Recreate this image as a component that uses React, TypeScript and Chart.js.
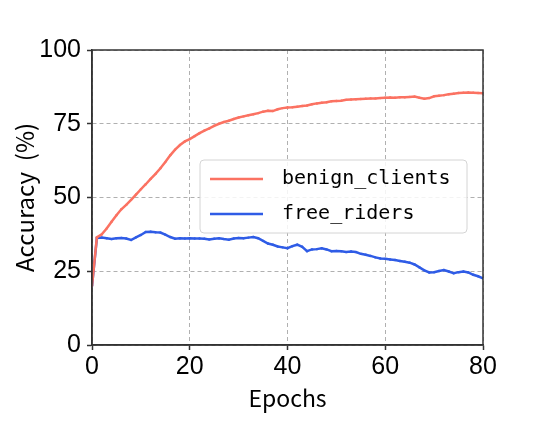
import React, { useEffect, useRef } from "react";
import { Chart, registerables } from "chart.js";

Chart.register(...registerables);

const EPOCHS: number[] = Array.from({ length: 81 }, (_, i) => i);

const BENIGN_CLIENTS: number[] = [
  20, 36.5, 37.5, 39.5, 41.8, 44, 46, 47.5, 49.2, 51,
  52.8, 54.5, 56.3, 58, 59.9, 62, 64.3, 66.2, 67.8, 69,
  69.8, 70.8, 71.8, 72.7, 73.4, 74.3, 75, 75.6, 76, 76.6,
  77.1, 77.5, 77.9, 78.2, 78.6, 79.1, 79.4, 79.3, 79.9, 80.3,
  80.5, 80.6, 80.8, 81, 81.2, 81.6, 81.9, 82.1, 82.3, 82.6,
  82.7, 82.8, 83.1, 83.2, 83.3, 83.4, 83.5, 83.6, 83.6, 83.7,
  83.8, 83.9, 83.8, 84, 84, 84.1, 84.2, 83.8, 83.5, 83.7,
  84.3, 84.5, 84.7, 85, 85.2, 85.4, 85.5, 85.6, 85.5, 85.4,
  85.3,
];

const FREE_RIDERS: number[] = [
  20, 36.3, 36.4, 36.2, 35.9, 36.2, 36.3, 36.1, 35.6, 36.5,
  37.3, 38.3, 38.4, 38.2, 38.1, 37.4, 36.6, 36, 36.2, 36.1,
  36.2, 36.1, 36.1, 36, 35.8, 36, 36.2, 35.9, 35.7, 36.1,
  36.3, 36.2, 36.4, 36.6, 36.2, 35.3, 34.4, 34, 33.4, 33.1,
  32.8, 33.5, 34, 33.3, 31.8, 32.4, 32.5, 32.8, 32.4, 31.8,
  31.9, 31.8, 31.5, 31.7, 31.5, 30.9, 30.6, 30.2, 29.7, 29.3,
  29.2, 29, 28.8, 28.5, 28.2, 27.9, 27.3, 26.3, 25.3, 24.6,
  24.7, 25.1, 25.4, 24.9, 24.3, 24.7, 24.9, 24.6, 23.8, 23.3,
  22.6,
];

const SERIES_LABELS: string[] = ["benign_clients", "free_riders"];
const X_TICKS: number[] = [0, 20, 40, 60, 80];
const Y_TICKS: number[] = [0, 25, 50, 75, 100];
const X_TITLE = "Epochs";
const Y_TITLE = "Accuracy  (%)";

const COLORS = ["#FB7262", "#2F5CE6"];
const FRAME = "#333333";

const framePlugin = {
  id: "frameAndLegend",
  afterDatasetsDraw(chart: any) {
    const { ctx, chartArea } = chart;
    ctx.save();
    ctx.strokeStyle = FRAME;
    ctx.lineWidth = 1.5;
    ctx.setLineDash([]);
    ctx.strokeRect(
      chartArea.left,
      chartArea.top,
      chartArea.right - chartArea.left,
      chartArea.bottom - chartArea.top
    );

    // legend box
    const bx = 200, by = 160, bw = 267, bh = 73, r = 4;
    ctx.beginPath();
    ctx.moveTo(bx + r, by);
    ctx.lineTo(bx + bw - r, by);
    ctx.quadraticCurveTo(bx + bw, by, bx + bw, by + r);
    ctx.lineTo(bx + bw, by + bh - r);
    ctx.quadraticCurveTo(bx + bw, by + bh, bx + bw - r, by + bh);
    ctx.lineTo(bx + r, by + bh);
    ctx.quadraticCurveTo(bx, by + bh, bx, by + bh - r);
    ctx.lineTo(bx, by + r);
    ctx.quadraticCurveTo(bx, by, bx + r, by);
    ctx.closePath();
    ctx.fillStyle = "rgba(255,255,255,0.85)";
    ctx.fill();
    ctx.strokeStyle = "#d4d4d4";
    ctx.lineWidth = 1;
    ctx.stroke();

    const rows = [179, 214];
    chart.data.datasets.forEach((ds: any, i: number) => {
      const y = rows[i];
      ctx.strokeStyle = ds.borderColor;
      ctx.lineWidth = 2.5;
      ctx.beginPath();
      ctx.moveTo(210, y);
      ctx.lineTo(263, y);
      ctx.stroke();
      ctx.fillStyle = "#000";
      ctx.font = "20px 'DejaVu Sans Mono', monospace";
      ctx.textBaseline = "middle";
      ctx.textAlign = "left";
      ctx.fillText(ds.label, 282, y);
    });
    ctx.restore();
  },
};

export default function App() {
  const ref = useRef<HTMLCanvasElement | null>(null);

  useEffect(() => {
    document.body.style.margin = "0";
    const canvas = ref.current;
    if (!canvas) return;
    const gridOpts: any = {
      color: "#b0b0b0",
      lineWidth: 1,
      tickLength: 5,
      tickColor: FRAME,
      tickWidth: 1.5,
      tickBorderDash: [],
    };
    const chart = new Chart(canvas, {
      type: "line",
      data: {
        datasets: [
          {
            label: SERIES_LABELS[0],
            data: EPOCHS.map((e, i) => ({ x: e, y: BENIGN_CLIENTS[i] })),
            borderColor: COLORS[0],
            backgroundColor: COLORS[0],
            borderWidth: 2.5,
            pointRadius: 1.2,
            pointBorderWidth: 0,
            tension: 0,
          },
          {
            label: SERIES_LABELS[1],
            data: EPOCHS.map((e, i) => ({ x: e, y: FREE_RIDERS[i] })),
            borderColor: COLORS[1],
            backgroundColor: COLORS[1],
            borderWidth: 2.5,
            pointRadius: 1.2,
            pointBorderWidth: 0,
            tension: 0,
          },
        ],
      },
      options: {
        responsive: false,
        animation: false,
        layout: { padding: { top: 50, right: 51, left: 0, bottom: 0 } },
        plugins: {
          legend: { display: false },
          tooltip: { enabled: false },
        },
        scales: {
          x: {
            type: "linear",
            min: 0,
            max: 80,
            afterFit: (s: any) => {
              s.height = 97;
            },
            afterBuildTicks: (s: any) => {
              s.ticks = X_TICKS.map((v) => ({ value: v }));
            },
            ticks: {
              color: "#000",
              font: { family: "'Liberation Sans', Arial, sans-serif", size: 25 },
              padding: 2,
              maxRotation: 0,
              autoSkip: false,
            },
            grid: gridOpts,
            border: { display: true, color: FRAME, width: 1.5, dash: [4, 3] },
            title: {
              display: true,
              text: X_TITLE,
              color: "#000",
              font: { family: "'Noto Sans CJK SC', sans-serif", size: 23 },
              padding: { top: 0, bottom: 30 },
            },
          },
          y: {
            type: "linear",
            min: 0,
            max: 100,
            afterFit: (s: any) => {
              s.width = 92;
            },
            afterBuildTicks: (s: any) => {
              s.ticks = Y_TICKS.map((v) => ({ value: v }));
            },
            ticks: {
              color: "#000",
              font: { family: "'Liberation Sans', Arial, sans-serif", size: 25 },
              padding: 6,
              autoSkip: false,
            },
            grid: gridOpts,
            border: { display: true, color: FRAME, width: 1.5, dash: [4, 3] },
            title: {
              display: true,
              text: Y_TITLE,
              color: "#000",
              font: { family: "'Noto Sans CJK SC', sans-serif", size: 24 },
              padding: { top: 10, bottom: 0 },
            },
          },
        },
      },
      plugins: [framePlugin],
    } as any);
    return () => chart.destroy();
  }, []);

  return (
    <div style={{ width: 534, height: 442 }}>
      <canvas ref={ref} width={534} height={442} style={{ display: "block" }} />
    </div>
  );
}
